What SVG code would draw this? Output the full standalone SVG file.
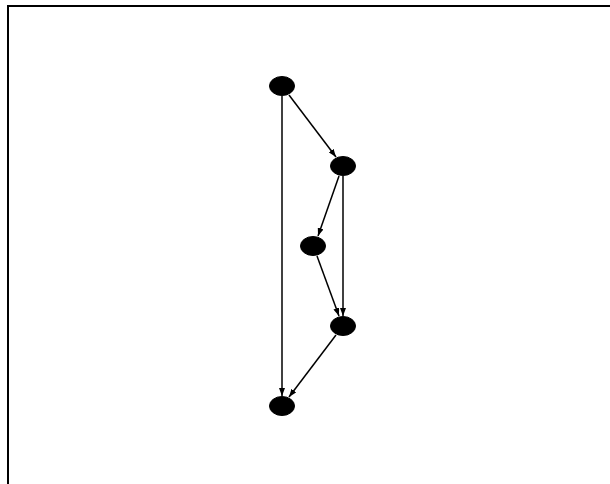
<svg xmlns="http://www.w3.org/2000/svg" width="610" height="484" viewBox="0 0 610 484">
<style>
.node{fill:#000;stroke:#000;stroke-width:1}
.edge{stroke:#000;stroke-width:1.5;fill:none;marker-end:url(#ah)}
</style>
<defs>
<marker id="ah" markerWidth="8" markerHeight="6" refX="8" refY="3" orient="auto" markerUnits="userSpaceOnUse">
<path d="M0,0 L8,3 L0,6 Z" fill="#000"/>
</marker>
</defs>
<rect x="8" y="6" width="640" height="520" fill="#fff" stroke="#000" stroke-width="2"/>
<g id="edges">
<line class="edge" x1="289" y1="95" x2="336" y2="157"/>
<line class="edge" x1="282" y1="96" x2="282" y2="396"/>
<line class="edge" x1="339" y1="176" x2="318" y2="236"/>
<line class="edge" x1="343" y1="176" x2="343" y2="316"/>
<line class="edge" x1="317" y1="256" x2="339" y2="316"/>
<line class="edge" x1="336" y1="335" x2="289" y2="397"/>
</g>
<g id="n1"><ellipse class="node" cx="282" cy="86" rx="12.5" ry="9.5"/></g>
<g id="n2"><ellipse class="node" cx="343" cy="166" rx="12.5" ry="9.5"/></g>
<g id="n3"><ellipse class="node" cx="313" cy="246" rx="12.5" ry="9.5"/></g>
<g id="n4"><ellipse class="node" cx="343" cy="326" rx="12.5" ry="9.5"/></g>
<g id="n5"><ellipse class="node" cx="282" cy="406" rx="12.5" ry="9.5"/></g>
</svg>
